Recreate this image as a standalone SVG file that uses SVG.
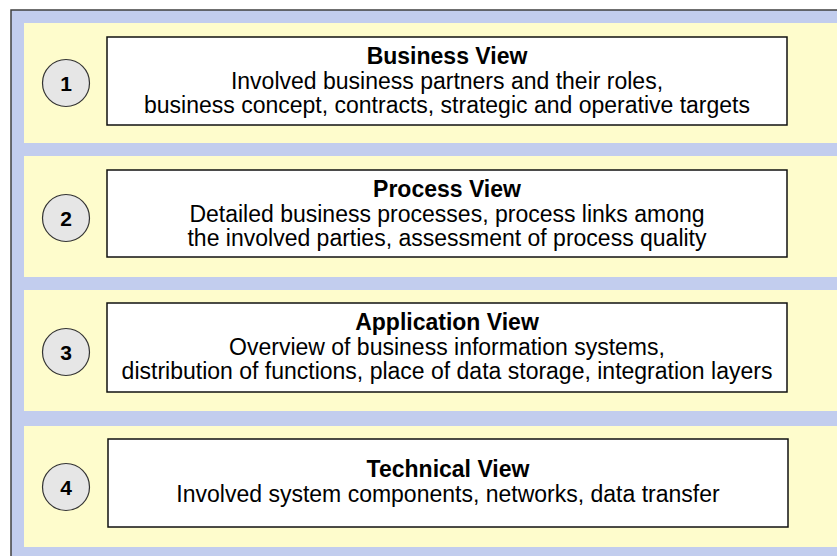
<svg xmlns="http://www.w3.org/2000/svg" width="837" height="556" viewBox="0 0 837 556">
  <style>
    .frame { fill: #c2cdee; stroke: #404040; stroke-width: 1.5; }
    .band { fill: #fefccc; }
    .box { fill: #ffffff; stroke: #111111; stroke-width: 1.5; }
    .num { fill: #e6e6e6; stroke: #333333; stroke-width: 1.2; }
    .numtxt { font-family: "Liberation Sans", Arial, sans-serif; font-weight: bold; font-size: 21px; fill: #000; text-anchor: middle; }
    .title { font-family: "Liberation Sans", Arial, sans-serif; font-weight: bold; font-size: 23px; fill: #000; text-anchor: middle; }
    .body { font-family: "Liberation Sans", Arial, sans-serif; font-size: 23px; fill: #000; text-anchor: middle; }
  </style>

  <!-- outer frame, running off the right and bottom edges -->
  <rect class="frame" x="11" y="10" width="840" height="560"/>

  <!-- layer bands -->
  <rect class="band" x="24" y="23" width="820" height="120"/>
  <rect class="band" x="24" y="156" width="820" height="121"/>
  <rect class="band" x="24" y="290" width="820" height="121"/>
  <rect class="band" x="24" y="426" width="820" height="121"/>

  <g id="business-view">
    <circle class="num" cx="66" cy="83" r="23.5"/>
    <text class="numtxt" x="66" y="90.5">1</text>
    <rect class="box" x="107" y="37" width="680" height="88"/>
    <text class="title" x="447" y="64">Business View</text>
    <text class="body" x="447" y="89">Involved business partners and their roles,</text>
    <text class="body" x="447" y="113">business concept, contracts, strategic and operative targets</text>
  </g>

  <g id="process-view">
    <circle class="num" cx="66" cy="218" r="23.5"/>
    <text class="numtxt" x="66" y="225.5">2</text>
    <rect class="box" x="107" y="170" width="680" height="87"/>
    <text class="title" x="447" y="197">Process View</text>
    <text class="body" x="447" y="222">Detailed business processes, process links among</text>
    <text class="body" x="447" y="246">the involved parties, assessment of process quality</text>
  </g>

  <g id="application-view">
    <circle class="num" cx="66" cy="352" r="23.5"/>
    <text class="numtxt" x="66" y="359.5">3</text>
    <rect class="box" x="107" y="303" width="680" height="89"/>
    <text class="title" x="447" y="330">Application View</text>
    <text class="body" x="447" y="355">Overview of business information systems,</text>
    <text class="body" x="447" y="379">distribution of functions, place of data storage, integration layers</text>
  </g>

  <g id="technical-view">
    <circle class="num" cx="66" cy="487" r="23.5"/>
    <text class="numtxt" x="66" y="494.5">4</text>
    <rect class="box" x="108" y="439" width="680" height="88"/>
    <text class="title" x="448" y="477">Technical View</text>
    <text class="body" x="448" y="502">Involved system components, networks, data transfer</text>
  </g>

  <g id="connectors"></g>
</svg>
